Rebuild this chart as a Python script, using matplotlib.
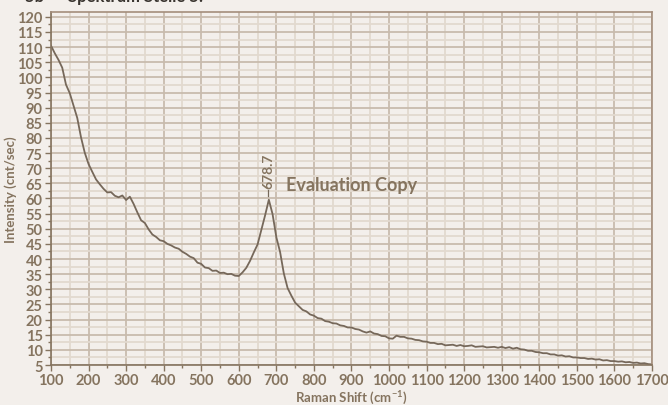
import numpy as np
import matplotlib.pyplot as plt
from matplotlib.ticker import MultipleLocator

# Raman spectrum (every 10 cm-1)
shift = np.arange(100, 1701, 10)
intensity = [
    110.5, 108.0, 105.8, 103.2, 97.6, 94.8, 90.7, 86.6, 80.2, 75.1,
    71.4, 68.8, 66.3, 64.7, 63.2, 62.0, 62.1, 60.9, 60.4, 61.0,
    59.5, 60.6, 58.2, 55.4, 52.8, 51.9, 49.8, 48.1, 47.3, 46.2,
    45.9, 45.0, 44.5, 43.8, 43.4, 42.4, 41.7, 40.8, 40.3, 38.8,
    38.4, 37.2, 37.0, 36.1, 36.2, 35.4, 35.5, 35.0, 35.1, 34.5,
    34.4, 35.6, 37.1, 39.4, 42.2, 44.8, 49.6, 54.4, 59.6, 54.8,
    47.2, 42.3, 35.2, 30.4, 27.9, 25.6, 24.4, 23.2, 22.7, 21.7,
    21.3, 20.5, 20.3, 19.5, 19.3, 18.8, 18.7, 18.1, 17.9, 17.4,
    17.4, 16.9, 16.7, 16.1, 15.7, 16.1, 15.4, 15.2, 14.6, 14.5,
    13.8, 13.7, 14.7, 14.3, 14.3, 13.8, 13.7, 13.3, 13.2, 12.8,
    12.7, 12.3, 12.3, 11.9, 12.0, 11.5, 11.6, 11.7, 11.3, 11.6,
    11.2, 11.3, 11.5, 11.0, 11.1, 11.2, 10.8, 10.9, 11.0, 10.7,
    11.0, 10.6, 10.9, 10.4, 10.7, 10.2, 10.1, 9.7, 9.7, 9.3,
    9.2, 8.9, 8.9, 8.5, 8.5, 8.1, 8.2, 7.8, 7.9, 7.5,
    7.5, 7.3, 7.3, 7.0, 7.1, 6.8, 6.9, 6.5, 6.6, 6.3,
    6.3, 6.1, 6.2, 5.9, 6.0, 5.7, 5.8, 5.5, 5.6, 5.3,
    5.2,
]
peak_pos = 678.7
peak_val = 60.4

bg = '#f3efeb'
text_col = '#85745f'
line_col = '#76685a'

plt.rcParams['font.family'] = ['Lato', 'DejaVu Sans']
plt.rcParams['mathtext.default'] = 'regular'

fig = plt.figure(figsize=(6.68, 4.06), dpi=100, facecolor=bg)
ax = fig.add_axes([0.0763, 0.0985, 0.8997, 0.8695], facecolor=bg)

ax.set_xlim(100, 1700)
ax.set_ylim(5, 121.6)
ax.xaxis.set_major_locator(MultipleLocator(100))
ax.xaxis.set_minor_locator(MultipleLocator(50))
ax.yaxis.set_major_locator(MultipleLocator(5))
ax.yaxis.set_minor_locator(MultipleLocator(2.5))

ax.grid(which='major', color='#c8bbad', linewidth=1.3)
ax.grid(which='minor', color='#e2d9cf', linewidth=1.3)
ax.set_axisbelow(True)

ax.plot(shift, intensity, color=line_col, linewidth=1.3)

# peak marker and label
ax.plot([peak_pos, peak_pos], [peak_val + 0.3, peak_val + 2.3], color=line_col, linewidth=0.9)
ax.text(peak_pos, peak_val + 3.0, f'{peak_pos:.1f}', rotation=90, ha='center', va='bottom',
        fontsize=10, fontweight='bold', color=text_col)
ax.text(725, 64.5, 'Evaluation Copy', ha='left', va='center',
        fontsize=13, fontweight='bold', color=text_col)

for side in ['left', 'bottom']:
    ax.spines[side].set_color('#85745f')
    ax.spines[side].set_linewidth(1.2)
for side in ['top', 'right']:
    ax.spines[side].set_color('#a48e7c')
    ax.spines[side].set_linewidth(1.2)

ax.tick_params(which='major', direction='out', length=4, width=1, color='#85745f',
               labelsize=10.5, labelcolor=text_col, pad=2)
ax.tick_params(which='minor', direction='out', length=2.5, width=1, color='#85745f')
for lbl in ax.get_xticklabels() + ax.get_yticklabels():
    lbl.set_fontweight('bold')

ax.set_xlabel('Raman Shift (cm$^{-1}$)', fontsize=9.5, fontweight='bold', color=text_col, labelpad=1)
ax.set_ylabel('Intensity (cnt/sec)', fontsize=9.5, fontweight='bold', color=text_col)
ax.yaxis.set_label_coords(-0.056, 0.5)

# heading at the top edge, clipped as in the reference
fig.text(0.038, 0.988, '5b      Spektrum Stelle 5:', fontsize=12, fontweight='bold',
         color='#3a3530', va='bottom')

fig.savefig('out.png', dpi=100, facecolor=bg)
